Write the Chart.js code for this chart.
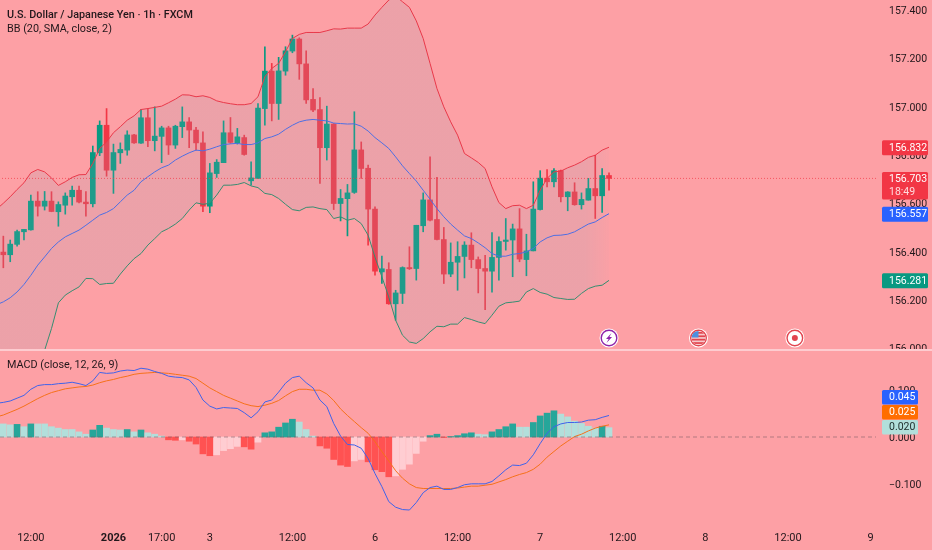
<!DOCTYPE html>
<html>
<head>
<meta charset="utf-8">
<title>USDJPY 1h</title>
<script src="https://cdn.jsdelivr.net/npm/chart.js@4"></script>
<style>
  html, body { margin: 0; padding: 0; background: #fda0a5; overflow: hidden; }
  body { width: 932px; height: 550px; position: relative; font-family: Roboto, sans-serif; color: #21171b; }
  #price-wrap { position: absolute; left: -7px; top: 0; width: 939px; height: 349px; }
  #macd-wrap { position: absolute; left: -7px; top: 351px; width: 939px; height: 199px; }
  #sep { position: absolute; left: 0; top: 349px; width: 932px; height: 2px; background: #fdccd0; }
  .legend { position: absolute; left: 7px; font-size: 10.8px; line-height: 14px; white-space: nowrap; }
</style>
</head>
<body>
<div id="price-wrap"><canvas id="price-chart"></canvas></div>
<div id="sep"></div>
<div id="macd-wrap"><canvas id="macd-chart"></canvas></div>
<div class="legend" style="top:8px;font-weight:500">U.S. Dollar / Japanese Yen · 1h · FXCM</div>
<div class="legend" style="top:22px">BB (20, SMA, close, 2)</div>
<div class="legend" style="top:358px">MACD (close, 12, 26, 9)</div>
<script>
// first slot sits just off the left edge, only the indicator lines have a value there
const opens = [null,156.398,156.387,156.430,156.482,156.490,156.609,156.588,156.609,156.565,156.592,
  156.627,156.654,156.605,156.598,156.809,156.923,156.737,156.809,156.820,156.883,
  156.849,156.954,156.859,156.877,156.912,156.841,156.917,156.937,156.903,156.850,
  156.588,156.723,156.768,156.892,156.850,156.872,156.693,156.703,156.992,157.147,
  157.013,157.147,157.230,157.280,157.177,157.030,156.988,156.830,156.928,156.599,
  156.619,156.645,156.821,156.745,156.576,156.316,156.326,156.184,156.227,156.334,
  156.330,156.507,156.614,156.533,156.450,156.307,156.356,156.380,156.427,156.367,
  156.330,156.319,156.376,156.442,156.448,156.494,156.367,156.403,156.574,156.704,
  156.689,156.735,156.627,156.647,156.594,156.613,156.661,156.631,156.715];
const highs = [null,156.464,156.448,156.489,156.492,156.634,156.648,156.649,156.648,156.606,156.643,
  156.671,156.671,156.648,156.837,156.941,156.992,156.845,156.850,156.900,156.885,
  156.988,156.992,156.999,156.919,156.919,156.923,156.999,156.955,156.914,156.896,
  156.765,156.781,156.941,156.955,156.910,156.882,156.772,157.013,157.248,157.179,
  157.204,157.248,157.296,157.285,157.231,157.075,157.038,157.002,156.930,156.657,
  156.678,156.979,156.854,156.758,156.585,156.381,156.354,156.240,156.337,156.420,
  156.509,156.643,156.792,156.707,156.500,156.436,156.441,156.441,156.478,156.378,
  156.385,156.479,156.461,156.537,156.514,156.578,156.472,156.689,156.735,156.740,
  156.744,156.737,156.648,156.685,156.643,156.703,156.799,156.744,156.726];
const lows = [null,156.333,156.358,156.423,156.448,156.489,156.547,156.572,156.565,156.505,156.555,
  156.592,156.602,156.547,156.585,156.797,156.712,156.641,156.765,156.799,156.848,
  156.848,156.834,156.817,156.768,156.802,156.827,156.872,156.830,156.820,156.565,
  156.561,156.707,156.768,156.848,156.845,156.799,156.675,156.703,156.923,156.941,
  156.947,157.130,157.223,157.113,157.013,156.979,156.682,156.779,156.574,156.527,
  156.465,156.641,156.703,156.427,156.302,156.268,156.182,156.116,156.185,156.326,
  156.282,156.482,156.527,156.448,156.268,156.296,156.240,156.291,156.333,156.229,
  156.160,156.232,156.282,156.406,156.296,156.358,156.300,156.403,156.572,156.668,
  156.668,156.606,156.569,156.592,156.576,156.613,156.537,156.562,156.654];
const closes = [null,156.387,156.431,156.483,156.492,156.609,156.588,156.609,156.566,156.595,156.630,
  156.654,156.605,156.598,156.810,156.923,156.737,156.810,156.823,156.883,156.850,
  156.954,156.859,156.878,156.912,156.841,156.919,156.937,156.903,156.850,156.588,
  156.726,156.770,156.892,156.852,156.875,156.802,156.705,156.994,157.147,157.013,
  157.148,157.231,157.280,157.177,157.028,156.986,156.830,156.928,156.599,156.620,
  156.643,156.821,156.744,156.576,156.319,156.329,156.184,156.229,156.334,156.329,
  156.509,156.614,156.530,156.450,156.307,156.356,156.380,156.427,156.367,156.330,
  156.319,156.376,156.442,156.448,156.494,156.369,156.403,156.576,156.704,156.689,
  156.735,156.627,156.647,156.594,156.616,156.661,156.631,156.715,156.703];

const bbUpper = [156.575,156.600,156.627,156.657,156.685,156.726,156.740,156.730,156.705,156.674,156.689,
  156.707,156.718,156.719,156.765,156.827,156.854,156.892,156.917,156.944,156.962,
  156.988,156.992,156.997,157.002,157.016,157.031,157.049,157.048,157.041,157.045,
  157.038,157.024,157.017,157.012,157.008,157.008,157.013,157.041,157.124,157.158,
  157.179,157.227,157.282,157.299,157.307,157.307,157.307,157.314,157.322,157.321,
  157.325,157.325,157.325,157.342,157.379,157.411,157.441,157.458,157.434,157.411,
  157.355,157.282,157.179,157.075,156.999,156.937,156.882,156.806,156.788,156.769,
  156.744,156.668,156.603,156.578,156.590,156.592,156.578,156.592,156.654,156.703,
  156.730,156.733,156.747,156.758,156.772,156.790,156.799,156.820,156.832];
const bbBasis = [156.180,156.192,156.209,156.233,156.264,156.302,156.344,156.378,156.413,156.440,156.461,
  156.475,156.489,156.509,156.530,156.551,156.562,156.578,156.606,156.634,156.654,
  156.689,156.710,156.730,156.747,156.758,156.779,156.795,156.809,156.820,156.817,
  156.824,156.834,156.843,156.846,156.848,156.843,156.843,156.850,156.868,156.875,
  156.886,156.906,156.923,156.937,156.944,156.947,156.944,156.941,156.932,156.930,
  156.928,156.929,156.919,156.899,156.872,156.850,156.827,156.792,156.755,156.723,
  156.692,156.654,156.617,156.578,156.544,156.514,156.489,156.465,156.454,156.436,
  156.416,156.392,156.381,156.381,156.389,156.392,156.399,156.413,156.440,156.457,
  156.467,156.468,156.472,156.482,156.498,156.514,156.523,156.541,156.557];
const bbLower = [155.550,155.578,155.619,155.675,155.730,155.813,155.909,155.992,156.082,156.188,156.220,
  156.238,156.254,156.289,156.288,156.264,156.268,156.269,156.307,156.341,156.371,
  156.392,156.427,156.454,156.482,156.496,156.514,156.537,156.572,156.602,156.596,
  156.600,156.634,156.675,156.675,156.678,156.686,156.672,156.665,156.641,156.636,
  156.620,156.596,156.574,156.569,156.583,156.585,156.578,156.574,156.537,156.544,
  156.530,156.537,156.516,156.468,156.378,156.296,156.213,156.116,156.054,156.026,
  156.020,156.040,156.068,156.091,156.089,156.100,156.100,156.127,156.119,156.109,
  156.102,156.137,156.174,156.188,156.191,156.195,156.233,156.247,156.231,156.224,
  156.210,156.206,156.202,156.203,156.227,156.247,156.257,156.261,156.281];

const macdLine = [0.072,0.074,0.077,0.083,0.089,0.102,0.110,0.112,0.112,0.114,0.115,
  0.117,0.114,0.110,0.120,0.138,0.136,0.137,0.141,0.143,0.142,
  0.147,0.145,0.140,0.136,0.130,0.128,0.127,0.122,0.106,0.079,
  0.066,0.060,0.063,0.062,0.061,0.052,0.041,0.054,0.075,0.079,
  0.096,0.115,0.127,0.130,0.116,0.105,0.079,0.065,0.029,0.002,
  -0.016,-0.017,-0.024,-0.046,-0.078,-0.106,-0.138,-0.150,-0.155,-0.156,
  -0.140,-0.119,-0.108,-0.105,-0.112,-0.112,-0.108,-0.102,-0.100,-0.100,
  -0.100,-0.095,-0.083,-0.070,-0.060,-0.061,-0.056,-0.038,-0.014,0.008,
  0.022,0.028,0.031,0.031,0.032,0.036,0.037,0.042,0.046];
const signalLine = [0.043,0.047,0.053,0.059,0.066,0.074,0.082,0.089,0.095,0.099,0.103,
  0.105,0.107,0.108,0.111,0.116,0.120,0.123,0.127,0.130,0.134,
  0.136,0.137,0.138,0.137,0.136,0.134,0.132,0.130,0.125,0.115,
  0.105,0.097,0.089,0.083,0.077,0.071,0.067,0.065,0.068,0.072,
  0.078,0.088,0.097,0.102,0.102,0.100,0.100,0.092,0.078,0.060,
  0.046,0.033,0.020,0.008,-0.010,-0.031,-0.051,-0.072,-0.088,-0.100,
  -0.108,-0.110,-0.110,-0.110,-0.110,-0.110,-0.109,-0.107,-0.105,-0.105,
  -0.103,-0.101,-0.096,-0.091,-0.085,-0.080,-0.076,-0.069,-0.058,-0.043,
  -0.031,-0.019,-0.009,0.001,0.006,0.013,0.019,0.023,0.026];
const macdHist = [null,0.028,0.026,0.027,0.022,0.028,0.028,0.028,0.022,0.019,0.016,
  0.016,0.011,0.006,0.015,0.025,0.019,0.016,0.015,0.016,0.011,
  0.015,0.009,0.006,0.002,-0.006,-0.007,-0.006,-0.009,-0.015,-0.036,
  -0.040,-0.038,-0.029,-0.025,-0.020,-0.021,-0.026,-0.011,0.009,0.011,
  0.021,0.030,0.038,0.032,0.016,0.002,-0.019,-0.024,-0.048,-0.060,
  -0.063,-0.051,-0.048,-0.053,-0.070,-0.074,-0.085,-0.083,-0.069,-0.058,
  -0.035,-0.009,0.003,0.006,-0.001,0.001,0.003,0.007,0.009,0.006,
  0.005,0.011,0.016,0.022,0.028,0.021,0.021,0.031,0.045,0.051,
  0.056,0.049,0.043,0.034,0.029,0.023,0.019,0.023,0.020];

const timeLabels = ['12:00','2026','17:00','3','12:00','6','12:00','7','12:00','8','12:00','9'];
const timeSlots = [5,17,24,31,43,55,67,79,91,103,115,127];
const slotCount = 128;
const priceTicks = [157.4,157.2,157.0,156.8,156.6,156.4,156.2,156.0];
const macdTicks = [0.1,0,-0.1];
const lastPrice = 156.703;
const countdown = '18:49';
const priceTags = [[156.832,'#f23645'],[156.557,'#2962ff'],[156.281,'#089981']];
const macdTags = [['0.045','#2962ff','#ffffff'],['0.025','#ff6d00','#ffffff'],['0.020','#b2dfdb','#1d2b2a']];
const eventSlots = [89,102,116];

const UP = '#089981';
const DOWN = '#f23645';
const AXIS_W = 58;
const TAG_X = 889;
const TEXT_X = 896;
const TEXT = '#21171b';
const AXIS_FONT = { family: 'Roboto, sans-serif', size: 10.5 };

const categories = Array(slotCount).fill('');
timeSlots.forEach((s, i) => { categories[s] = timeLabels[i]; });

const candleColors = opens.map((o, i) => (closes[i] >= o ? UP : DOWN));

function histColor(v, i) {
  const prev = i > 1 ? macdHist[i - 1] : v;
  if (v >= 0) return v > prev ? '#26a69a' : '#b2dfdb';
  return v < prev ? '#ff5252' : '#ffcdd2';
}

// band fades out over the last few candles
function bandFill(c) {
  const area = c.chart.chartArea;
  if (!area) return 'rgba(150,170,190,0.16)';
  const xs = c.chart.scales.x;
  const end = xs.getPixelForValue(bbUpper.length - 1);
  const g = c.chart.ctx.createLinearGradient(end - 24, 0, end, 0);
  g.addColorStop(0, 'rgba(150,170,190,0.16)');
  g.addColorStop(1, 'rgba(150,170,190,0.03)');
  return g;
}

function tag(ctx, x, y, w, h, color) {
  ctx.fillStyle = color;
  ctx.beginPath();
  ctx.roundRect(x, y, w, h, 1.5);
  ctx.fill();
}

function drawEvent(ctx, x, y, kind) {
  ctx.save();
  ctx.beginPath();
  ctx.arc(x, y, 9.5, 0, Math.PI * 2);
  ctx.fillStyle = '#ffffff';
  ctx.fill();
  const ring = kind === 0 ? '#8e24aa' : '#e2454f';
  ctx.beginPath();
  ctx.arc(x, y, 7.8, 0, Math.PI * 2);
  ctx.strokeStyle = ring;
  ctx.lineWidth = 1.4;
  ctx.stroke();
  if (kind === 0) {
    ctx.fillStyle = '#8e24aa';
    ctx.beginPath();
    ctx.moveTo(x + 2.5, y - 5);
    ctx.lineTo(x - 3, y + 1);
    ctx.lineTo(x - 0.4, y + 1);
    ctx.lineTo(x - 2.5, y + 5);
    ctx.lineTo(x + 3, y - 1);
    ctx.lineTo(x + 0.4, y - 1);
    ctx.closePath();
    ctx.fill();
  } else if (kind === 1) {
    ctx.save();
    ctx.beginPath();
    ctx.arc(x, y, 7, 0, Math.PI * 2);
    ctx.clip();
    ctx.fillStyle = '#f7c9cc';
    ctx.fillRect(x - 8, y - 8, 16, 16);
    ctx.fillStyle = '#e2454f';
    for (let i = 0; i < 4; i++) ctx.fillRect(x - 8, y - 6 + i * 3.4, 16, 1.7);
    ctx.fillStyle = '#4c8fe0';
    ctx.fillRect(x - 8, y - 8, 8, 7.5);
    ctx.restore();
  } else {
    ctx.fillStyle = '#e2454f';
    ctx.beginPath();
    ctx.arc(x, y, 3, 0, Math.PI * 2);
    ctx.fill();
  }
  ctx.restore();
}

const priceOverlay = {
  id: 'priceOverlay',
  afterDraw(chart) {
    const ctx = chart.ctx;
    const xs = chart.scales.x;
    const ys = chart.scales.y;
    const py = ys.getPixelForValue(lastPrice);
    ctx.save();
    ctx.strokeStyle = 'rgba(242,54,69,0.7)';
    ctx.lineWidth = 1;
    ctx.setLineDash([1, 2]);
    ctx.beginPath();
    ctx.moveTo(0, py);
    ctx.lineTo(xs.right + 2, py);
    ctx.stroke();
    ctx.setLineDash([]);
    ctx.font = '10.5px Roboto, sans-serif';
    ctx.textBaseline = 'middle';
    ctx.textAlign = 'left';
    priceTags.forEach(([v, color]) => {
      const y = ys.getPixelForValue(v);
      tag(ctx, TAG_X, y - 7, 46, 15, color);
      ctx.fillStyle = '#ffffff';
      ctx.fillText(v.toFixed(3), TEXT_X, y + 1);
    });
    tag(ctx, TAG_X, py - 6.5, 46, 27.5, DOWN);
    ctx.fillStyle = '#ffffff';
    ctx.fillText(lastPrice.toFixed(3), TEXT_X, py + 1);
    ctx.fillStyle = '#ffd9dc';
    ctx.fillText(countdown, TEXT_X, py + 14);
    eventSlots.forEach((s, i) => drawEvent(ctx, xs.getPixelForValue(s), 338, i));
    ctx.restore();
  }
};

const macdOverlay = {
  id: 'macdOverlay',
  afterDraw(chart) {
    const ctx = chart.ctx;
    const xs = chart.scales.x;
    const y0 = chart.scales.y.getPixelForValue(0);
    ctx.save();
    ctx.strokeStyle = 'rgba(120,90,100,0.55)';
    ctx.lineWidth = 1;
    ctx.setLineDash([4, 3]);
    ctx.beginPath();
    ctx.moveTo(0, y0);
    ctx.lineTo(xs.right + 2, y0);
    ctx.stroke();
    ctx.setLineDash([]);
    ctx.font = '10.5px Roboto, sans-serif';
    ctx.textBaseline = 'middle';
    ctx.textAlign = 'left';
    macdTags.forEach(([text, bg, fg], i) => {
      const y = 39 + i * 15;
      tag(ctx, TAG_X, y, 36, 14.5, bg);
      ctx.fillStyle = fg;
      ctx.fillText(text, TEXT_X, y + 7.5);
    });
    ctx.restore();
  }
};

function rightAxis(min, max, ticks, fmt) {
  return {
    position: 'right',
    min, max,
    afterBuildTicks: s => { s.ticks = ticks.map(v => ({ value: v })); },
    afterFit: s => { s.width = AXIS_W; s.paddingTop = 0; s.paddingBottom = 0; },
    grid: { display: false, drawTicks: false },
    border: { display: false },
    ticks: { padding: 15, labelOffset: 1.5, color: TEXT, font: AXIS_FONT, callback: fmt }
  };
}

new Chart(document.getElementById('price-chart'), {
  type: 'bar',
  data: {
    labels: categories,
    datasets: [
      { type: 'line', data: bbUpper, borderColor: '#e8394a', borderWidth: 1, pointRadius: 0, order: 1,
        fill: { target: 2 }, backgroundColor: bandFill },
      { type: 'line', data: bbBasis, borderColor: '#3f63ea', borderWidth: 1, pointRadius: 0, order: 1 },
      { type: 'line', data: bbLower, borderColor: '#2e8a6a', borderWidth: 1, pointRadius: 0, order: 1 },
      { data: lows.map((l, i) => (l === null ? null : [l, highs[i]])), backgroundColor: candleColors, barThickness: 1, grouped: false, order: 3 },
      { data: opens.map((o, i) => (o === null ? null : [o, closes[i]])), backgroundColor: candleColors, barThickness: 5, grouped: false, order: 2 }
    ]
  },
  options: {
    responsive: true,
    maintainAspectRatio: false,
    animation: false,
    layout: { padding: 0 },
    plugins: { legend: { display: false }, tooltip: { enabled: false } },
    scales: {
      x: { display: false, offset: true, grid: { display: false } },
      y: rightAxis(155.9969, 157.4414, priceTicks, v => v.toFixed(3))
    }
  },
  plugins: [priceOverlay]
});

new Chart(document.getElementById('macd-chart'), {
  type: 'bar',
  data: {
    labels: categories,
    datasets: [
      { type: 'line', data: macdLine, borderColor: '#3f63ea', borderWidth: 1, pointRadius: 0, order: 1 },
      { type: 'line', data: signalLine, borderColor: '#f5711a', borderWidth: 1, pointRadius: 0, order: 1 },
      { data: macdHist, backgroundColor: macdHist.map(histColor), barThickness: 6, order: 2 }
    ]
  },
  options: {
    responsive: true,
    maintainAspectRatio: false,
    animation: false,
    layout: { padding: 0 },
    plugins: { legend: { display: false }, tooltip: { enabled: false } },
    scales: {
      x: {
        offset: true,
        afterFit: s => { s.height = 28; s.paddingLeft = 0; s.paddingRight = 0; },
        grid: { display: false, drawTicks: false },
        border: { display: false },
        ticks: {
          autoSkip: false, maxRotation: 0, padding: 10, color: TEXT,
          font: c => ({ family: AXIS_FONT.family, size: 11, weight: c.tick && c.tick.label === '2026' ? 'bold' : 'normal' })
        }
      },
      y: rightAxis(-0.1816, 0.1838, macdTicks, v => v.toFixed(3).replace('-', '\u2212'))
    }
  },
  plugins: [macdOverlay]
});
</script>
</body>
</html>
